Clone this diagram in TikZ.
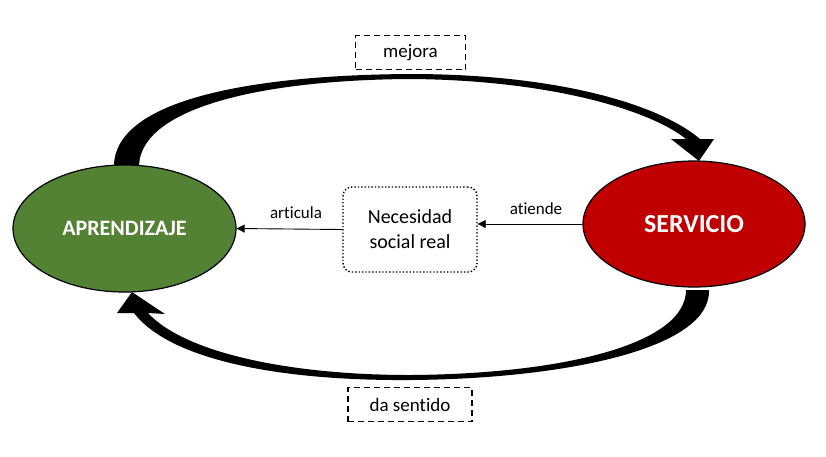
\documentclass[tikz,border=0pt]{standalone}
\usepackage{fontspec}
\setmainfont{Carlito}[Ligatures={NoCommon}]
\usetikzlibrary{arrows.meta,shapes.geometric}
\definecolor{aprgreen}{HTML}{548235}
\definecolor{serred}{HTML}{C00000}
\begin{document}
\begin{tikzpicture}[x=1pt,y=-1pt,
  ovalnode/.style={ellipse,draw=black,line width=1.2pt,text=white,font=\bfseries,inner sep=0pt},
  labelbox/.style={draw=black,line width=1.3pt,dash pattern=on 6pt off 4pt,minimum width=110pt,minimum height=34pt,font=\fontsize{19}{22}\selectfont,inner sep=0pt},
  needbox/.style={draw=black,line width=1.4pt,dotted,rounded corners=9pt,minimum width=134pt,minimum height=85pt,align=center,font=\fontsize{20}{25}\selectfont,inner sep=0pt},
  thinarrow/.style={line width=0.9pt,-{Triangle[length=8pt,width=8pt]}},
  smalllabel/.style={font=\fontsize{17}{19}\selectfont,inner sep=0pt}
]
\useasboundingbox (0,0) rectangle (826,456);
% top curved block arrow
\fill[black] (114,165) .. controls (116,100) and (250,75) .. (410,74)
  .. controls (560,74) and (660,105) .. (700,139)
  -- (714,139) -- (699,161) -- (671,139) -- (686,139)
  .. controls (650,110) and (550,80) .. (410,79)
  .. controls (260,80) and (142,108) .. (139,165) -- cycle;
% bottom curved block arrow
\fill[black] (709,290) .. controls (711,350) and (560,379) .. (410,380)
  .. controls (280,381) and (170,360) .. (134,313)
  -- (117,313) -- (132,292) -- (165,314) -- (148,313)
  .. controls (185,353) and (290,375) .. (410,375)
  .. controls (560,374) and (686,345) .. (686,290) -- cycle;
% nodes
\node[ovalnode,fill=aprgreen,minimum width=223pt,minimum height=127pt,font=\bfseries\fontsize{22}{24}\selectfont] (apr) at (124.5,228.5) {APRENDIZAJE};
\node[ovalnode,fill=serred,minimum width=222pt,minimum height=126pt,font=\bfseries\fontsize{26}{28}\selectfont] (ser) at (694,224) {SERVICIO};
\node[needbox] (need) at (410,229.5) {Necesidad\\social real};
\node[labelbox] (mej) at (410.5,52.5) {mejora};
\node[labelbox,minimum width=124pt] (das) at (410,404.5) {da sentido};
% connectors
\draw[thinarrow] (need.west) -- (apr.east);
\draw[thinarrow] (ser.west) -- (need.east |- ser.west);
\node[smalllabel] (art) at (296,213) {articula};
\node[smalllabel] (ati) at (536,209) {atiende};
\end{tikzpicture}
\end{document}
